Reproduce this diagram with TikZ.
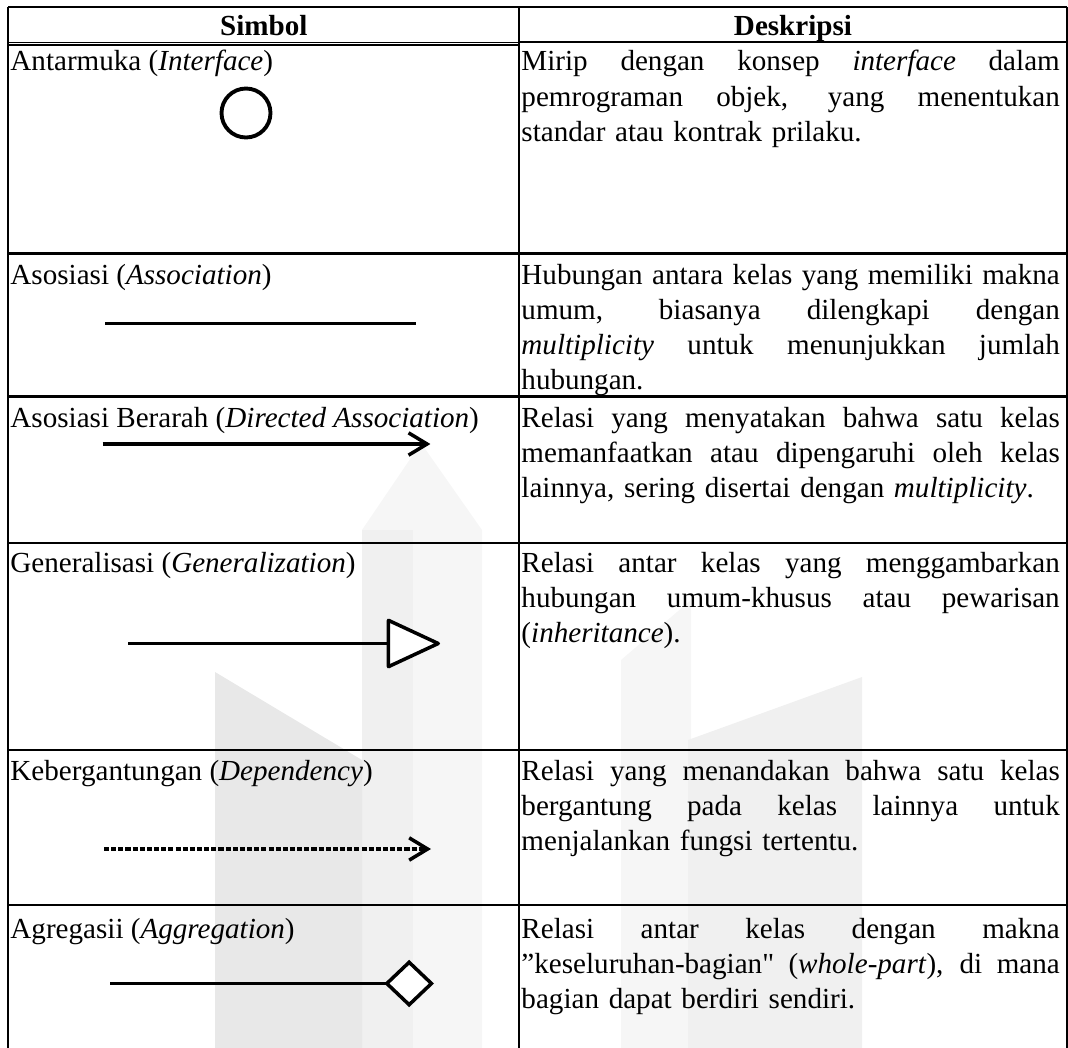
\documentclass[tikz,border=0pt]{standalone}
\usepackage{fontspec}
\setmainfont{Liberation Serif}
\usetikzlibrary{arrows.meta}

% one justified line of the description column
\newcommand{\fullline}[1]{\makebox[222pt][s]{\spaceskip=0pt\xspaceskip=0pt #1}}

\colorlet{wmdark}{black!9}
\colorlet{wmmid}{black!6}
\colorlet{wmlite}{black!3.5}

\tikzset{
  rule/.style={line width=0.85pt},
  thinrule/.style={line width=0.55pt},
  symline/.style={line width=1.45pt},
  cell/.style={anchor=base west, inner sep=0pt, font=\fontsize{12}{14.5}\selectfont},
  desc/.style={cell, text width=222pt, align=left},
  head/.style={anchor=base, inner sep=0pt, font=\fontsize{12}{14.5}\selectfont\bfseries},
}

\begin{document}
\begin{tikzpicture}[x=0.4124pt, y=-0.4124pt]
  \useasboundingbox (0,0) rectangle (1068,1048);

  % faint logo in the background
  \fill[wmlite] (362,1048) -- (362,530) -- (421,443) -- (482,530) -- (482,1048) -- cycle;
  \fill[wmmid] (362,1048) -- (362,530) -- (413,530) -- (413,1048) -- cycle;
  \fill[wmdark] (215,1048) -- (215,672) -- (362,760) -- (362,1048) -- cycle;
  \fill[wmlite] (621,1048) -- (621,660) -- (691,600) -- (691,1048) -- cycle;
  \fill[wmmid] (688,1048) -- (688,740) -- (862,677) -- (862,1048) -- cycle;

  % table rules
  \draw[rule] (8.3,6.7) -- (1066.7,6.7);
  \foreach \xx in {8.3,519.3,1066.7}
    \draw[rule] (\xx,6.7) -- (\xx,1048);
  \draw[thinrule] (8.3,42.3) -- (519.3,42.3);
  \draw[thinrule] (8.3,45) -- (519.3,45);
  \draw[rule] (519.3,42) -- (1066.7,42);
  \foreach \yy in {253.5,396.5,543,750,905}
    \draw[rule] (8.3,\yy) -- (1066.7,\yy);

  % header
  \node[head] (hsym) at (263.8,36) {Simbol};
  \node[head] (hdes) at (793,36) {Deskripsi};

  % symbol column
  \node[cell] (sym1) at (10,71) {Antarmuka (\emph{Interface})};
  \node[cell] (sym2) at (10,284.5) {Asosiasi (\emph{Association})};
  \node[cell] (sym3) at (10,427) {Asosiasi Berarah (\emph{Directed Association})};
  \node[cell] (sym4) at (10,572) {Generalisasi (\emph{Generalization})};
  \node[cell] (sym5) at (10,780) {Kebergantungan (\emph{Dependency})};
  \node[cell] (sym6) at (10,938) {Agregasii (\emph{Aggregation})};

  % description column
  \node[desc] (des1) at (521,71) {\fullline{Mirip dengan konsep \emph{interface} dalam}\\
    \fullline{pemrograman objek, yang menentukan}\\
    standar atau kontrak prilaku.};
  \node[desc] (des2) at (521,284.5) {\fullline{Hubungan antara kelas yang memiliki makna}\\
    \fullline{umum, biasanya dilengkapi dengan}\\
    \fullline{\emph{multiplicity} untuk menunjukkan jumlah}\\
    hubungan.};
  \node[desc] (des3) at (521,427) {\fullline{Relasi yang menyatakan bahwa satu kelas}\\
    \fullline{memanfaatkan atau dipengaruhi oleh kelas}\\
    lainnya, sering disertai dengan \emph{multiplicity}.};
  \node[desc] (des4) at (521,572) {\fullline{Relasi antar kelas yang menggambarkan}\\
    \fullline{hubungan umum-khusus atau pewarisan}\\
    (\emph{inheritance}).};
  \node[desc] (des5) at (521,780) {\fullline{Relasi yang menandakan bahwa satu kelas}\\
    \fullline{bergantung pada kelas lainnya untuk}\\
    menjalankan fungsi tertentu.};
  \node[desc] (des6) at (521,938) {\fullline{Relasi antar kelas dengan makna}\\
    \fullline{”keseluruhan-bagian\textquotedbl{} (\emph{whole-part}), di mana}\\
    bagian dapat berdiri sendiri.};

  % the symbols
  \draw[symline, line width=1.6pt] (246,113) circle[radius=24.5];
  \draw[symline] (105,323.7) -- (415.6,323.7);
  \draw[symline, -{Straight Barb[length=7.6pt, width=9.2pt]}] (102.6,444) -- (430.4,444);
  \draw[symline, -{Triangle[length=23pt, width=21pt, fill=white, round]}] (128.4,643.5) -- (440,643.5);
  \draw[symline, dash pattern=on 2.1pt off 0.85pt, -{Straight Barb[length=7.6pt, width=9.2pt]}]
    (104,849) -- (431,849);
  \draw[symline, -{Diamond[length=20.5pt, width=19.5pt, fill=white]}] (110,983.5) -- (434,983.5);
\end{tikzpicture}
\end{document}
